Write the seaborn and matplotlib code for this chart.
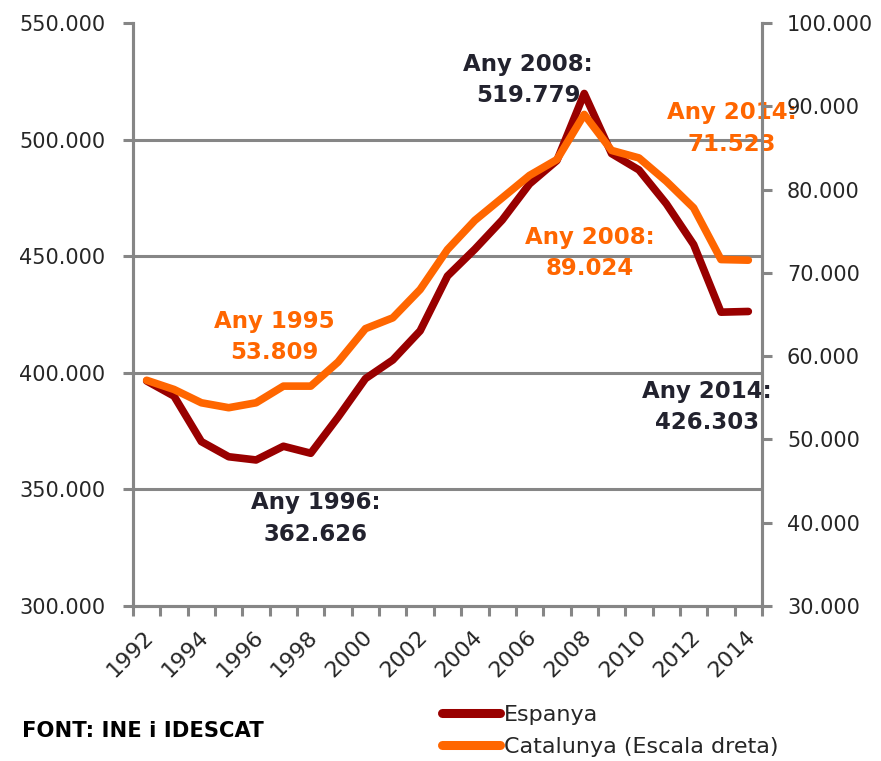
import numpy as np
import pandas as pd
import matplotlib
matplotlib.use('Agg')
import matplotlib.pyplot as plt
import matplotlib.transforms as mtransforms
from matplotlib.ticker import FuncFormatter, FixedLocator
import seaborn as sns

# Data
years = list(range(1992, 2015))
espanya = [396500, 390000, 370500, 364000, 362626, 368500, 365500, 381000,
           397500, 405500, 418000, 441500, 453000, 465500, 481000, 491000,
           519779, 494000, 487000, 472500, 455000, 426000, 426303]
catalunya = [57100, 56000, 54400, 53809, 54400, 56400, 56400, 59300,
             63300, 64600, 68000, 72800, 76300, 79000, 81700, 83600,
             89024, 84700, 83800, 81000, 77800, 71600, 71523]

left_ticks = [300000, 350000, 400000, 450000, 500000, 550000]
right_ticks = [30000, 40000, 50000, 60000, 70000, 80000, 90000, 100000]
label_years = years[::2]

labels = {
    'esp': 'Espanya',
    'cat': 'Catalunya (Escala dreta)',
    'source': 'FONT: INE i IDESCAT',
}

df = pd.DataFrame({'year': years, 'espanya': espanya, 'catalunya': catalunya})

DARK_RED = '#990000'
ORANGE = '#FF6600'
GREY = '#868686'
DARK_TEXT = '#22222e'

sns.set_style('white')
plt.rcParams['font.family'] = ['DejaVu Sans']


def thousands(v, pos=None):
    return f'{v:,.0f}'.replace(',', '.')


fig = plt.figure(figsize=(8.81, 7.61), dpi=100)
ax = fig.add_axes([133 / 881, 1 - 606 / 761, 629 / 881, 583 / 761])
ax2 = ax.twinx()

sns.lineplot(data=df, x='year', y='espanya', ax=ax, color=DARK_RED,
             linewidth=5.5, label=labels['esp'], legend=False)
sns.lineplot(data=df, x='year', y='catalunya', ax=ax2, color=ORANGE,
             linewidth=5.5, label=labels['cat'], legend=False)

# Axes limits and ticks
ax.set_xlim(years[0] - 0.5, years[-1] + 0.5)
ax.set_ylim(left_ticks[0], left_ticks[-1])
ax2.set_ylim(right_ticks[0], right_ticks[-1])

ax.set_yticks(left_ticks)
ax2.set_yticks(right_ticks)
ax.yaxis.set_major_formatter(FuncFormatter(thousands))
ax2.yaxis.set_major_formatter(FuncFormatter(thousands))

ax.set_xticks(label_years)
ax.set_xticklabels([str(y) for y in label_years], rotation=45, ha='right',
                   va='center', rotation_mode='anchor')
ax.xaxis.set_minor_locator(FixedLocator(np.arange(years[0] - 0.5, years[-1] + 1, 1)))

ax.set_xlabel('')
ax.set_ylabel('')
ax2.set_ylabel('')

# Gridlines for the left axis only (no top line)
for v in left_ticks[1:-1]:
    ax.axhline(v, color=GREY, linewidth=2.2, zorder=0)

for a in (ax, ax2):
    a.spines['top'].set_visible(False)
    for side in ('left', 'right', 'bottom'):
        a.spines[side].set_color(GREY)
        a.spines[side].set_linewidth(2.2)

ax.tick_params(axis='y', which='major', direction='out', length=7, width=2.2,
               color=GREY, pad=13, labelsize=15, left=True)
ax2.tick_params(axis='y', which='major', direction='out', length=7, width=2.2,
                color=GREY, pad=11, labelsize=15, right=True)
ax.tick_params(axis='x', which='major', length=0, pad=20, labelsize=16)
ax.tick_params(axis='x', which='minor', direction='out', length=7, width=2.2,
               color=GREY, bottom=True)

# shift year labels a few pixels right, like the reference
offset = mtransforms.ScaledTranslation(4 / 100, 0, fig.dpi_scale_trans)
for lbl in ax.get_xticklabels():
    lbl.set_transform(lbl.get_transform() + offset)

# Annotations
ann_kw = dict(ha='center', va='center', fontsize=16.5, fontweight='bold',
              linespacing=1.45, transform=ax.transAxes, clip_on=False)
ax.text(0.628, 0.903, 'Any 2008:\n519.779', color=DARK_TEXT, **ann_kw)
ax.text(0.952, 0.819, 'Any 2014:\n71.523', color=ORANGE, **ann_kw)
ax.text(0.726, 0.605, 'Any 2008:\n89.024', color=ORANGE, **ann_kw)
ax.text(0.224, 0.461, 'Any 1995\n53.809', color=ORANGE, **ann_kw)
ax.text(0.913, 0.341, 'Any 2014:\n426.303', color=DARK_TEXT, **ann_kw)
ax.text(0.290, 0.150, 'Any 1996:\n362.626', color=DARK_TEXT, **ann_kw)

# Legend
h1, l1 = ax.get_legend_handles_labels()
h2, l2 = ax2.get_legend_handles_labels()
leg = fig.legend(h1 + h2, l1 + l2, loc='upper left',
                 bbox_to_anchor=(442 / 881, 1 - 705 / 761), frameon=False,
                 fontsize=16, handlelength=2.6, handletextpad=0.18,
                 labelspacing=0.55, borderpad=0, borderaxespad=0)
for line in leg.get_lines():
    line.set_linewidth(6.5)

fig.text(22 / 881, 1 - 731 / 761, labels['source'], fontsize=15.2,
         fontweight='bold', ha='left', va='center', color='black')

fig.savefig('out.png', dpi=100)
